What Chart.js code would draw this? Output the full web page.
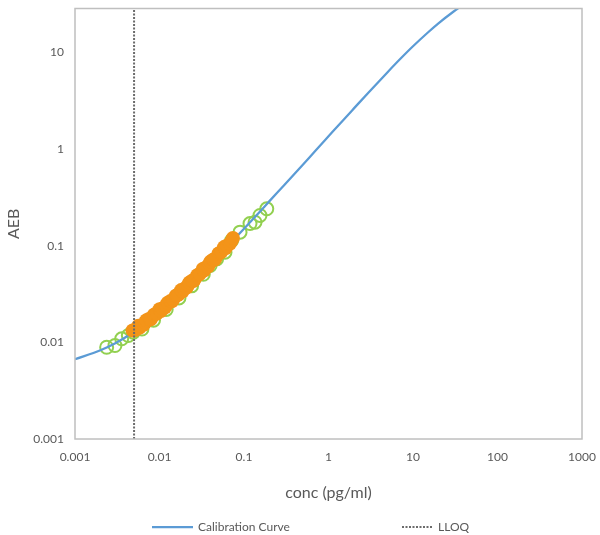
<!DOCTYPE html>
<html>
<head>
<meta charset="utf-8">
<title>Calibration Curve</title>
<script src="https://cdn.jsdelivr.net/npm/chart.js@4.4.1/dist/chart.umd.min.js"></script>
<style>
  html, body { margin: 0; padding: 0; background: #ffffff; }
  #wrap { width: 600px; height: 535px; }
</style>
</head>
<body>
<div id="wrap"><canvas id="calChart"></canvas></div>
<script>
// axis ranges / ticks
const X_TICKS = [0.001, 0.01, 0.1, 1, 10, 100, 1000];
const Y_TICKS = [0.001, 0.01, 0.1, 1, 10];
const Y_MAX = 28.6;
const LLOQ = 0.005;

// fitted calibration curve
const curveConc = [0.001, 0.002, 0.003, 0.005, 0.007, 0.01, 0.015, 0.02, 0.03, 0.05, 0.07, 0.1, 0.15, 0.2, 0.3, 0.5, 0.7, 1, 1.5, 2, 3, 5, 7, 10, 15, 20, 30, 40];
const curveAeb  = [0.0067, 0.0083, 0.0098, 0.0129, 0.0160, 0.0206, 0.0280, 0.0355, 0.0502, 0.0791, 0.1078, 0.150, 0.220, 0.290, 0.426, 0.695, 0.964, 1.36, 2.01, 2.645, 3.89, 6.27, 8.52, 11.62, 16.14, 20.08, 26.46, 31.6];

// standards (green open circles)
const stdConc = [0.00237, 0.00297, 0.00357, 0.00428, 0.0049, 0.0062, 0.0085, 0.012, 0.017, 0.024, 0.033, 0.0397, 0.0475, 0.0596, 0.0714, 0.0898, 0.1178, 0.135, 0.1545, 0.186];
const stdAeb  = [0.00891, 0.00929, 0.01089, 0.01178, 0.01277, 0.01375, 0.0170, 0.02192, 0.02887, 0.03848, 0.05073, 0.0625, 0.0733, 0.0859, 0.1135, 0.1384, 0.170, 0.1754, 0.206, 0.2415];

// samples (orange filled markers)
const sampleConc = [0.0048, 0.005, 0.0052, 0.0056, 0.0058, 0.006, 0.0065, 0.0068, 0.007, 0.0075, 0.0078, 0.008, 0.0086, 0.009, 0.0093, 0.010, 0.0104, 0.0108, 0.0116, 0.012, 0.0125, 0.0135, 0.014, 0.0145, 0.0156, 0.0162, 0.0168, 0.018, 0.0187, 0.0194, 0.021, 0.0218, 0.0226, 0.0243, 0.0252, 0.026, 0.028, 0.029, 0.030, 0.0325, 0.0337, 0.035, 0.0375, 0.039, 0.040, 0.043, 0.0445, 0.046, 0.050, 0.052, 0.054, 0.058, 0.0605, 0.063, 0.068, 0.071, 0.074];
const sampleAeb  = [0.01327, 0.01333, 0.01352, 0.01483, 0.01417, 0.0149, 0.01524, 0.01617, 0.01697, 0.01744, 0.01722, 0.0177, 0.01936, 0.01962, 0.01988, 0.022, 0.02116, 0.02242, 0.02297, 0.02428, 0.02578, 0.02685, 0.02656, 0.02758, 0.0304, 0.03074, 0.03135, 0.03479, 0.03356, 0.03564, 0.03696, 0.03928, 0.04166, 0.04348, 0.04314, 0.04474, 0.04957, 0.05019, 0.05115, 0.05757, 0.05557, 0.05916, 0.06108, 0.06515, 0.06859, 0.0718, 0.0712, 0.07409, 0.08308, 0.08444, 0.08656, 0.09692, 0.09417, 0.1006, 0.1048, 0.1124, 0.1202];

const COLORS = {
  curve: '#5B9BD5',
  lloq: '#6B6B6B',
  std: '#92D050',
  sample: '#F39419',
  text: '#595959',
  frame: '#BFBFBF'
};
const FONT = 'Lato, "Open Sans", "Liberation Sans", sans-serif';

function toPoints(xs, ys) {
  return xs.map((x, i) => ({ x: x, y: ys[i] }));
}

// tick labels may hang over the plot edges, like in the spreadsheet
function noLabelPadding(scale) {
  scale.paddingTop = 0;
  scale.paddingBottom = 0;
  scale.paddingLeft = 0;
  scale.paddingRight = 0;
}

// grey box round the plot area
const plotFrame = {
  id: 'plotFrame',
  afterDraw(chart) {
    const { ctx, chartArea: a } = chart;
    ctx.save();
    ctx.strokeStyle = COLORS.frame;
    ctx.lineWidth = 1.5;
    ctx.strokeRect(a.left, a.top, a.right - a.left, a.bottom - a.top);
    ctx.restore();
  }
};

// legend only lists the curve and the LLOQ line, spaced apart
const bottomLegend = {
  id: 'bottomLegend',
  afterDraw(chart) {
    const { ctx } = chart;
    const y = 527;
    const items = [
      { ds: chart.data.datasets[0], x: 152, len: 41 },
      { ds: chart.data.datasets[1], x: 402, len: 31 }
    ];
    ctx.save();
    ctx.font = '12px ' + FONT;
    ctx.textBaseline = 'middle';
    ctx.fillStyle = COLORS.text;
    items.forEach(item => {
      ctx.beginPath();
      ctx.strokeStyle = item.ds.borderColor;
      ctx.lineWidth = item.ds.borderWidth;
      ctx.setLineDash(item.ds.borderDash || []);
      ctx.moveTo(item.x, y);
      ctx.lineTo(item.x + item.len, y);
      ctx.stroke();
      ctx.setLineDash([]);
      ctx.fillText(item.ds.label, item.x + item.len + 5, y);
    });
    ctx.restore();
  }
};

const ctx = document.getElementById('calChart').getContext('2d');
new Chart(ctx, {
  type: 'scatter',
  data: {
    datasets: [
      {
        type: 'line',
        label: 'Calibration Curve',
        data: toPoints(curveConc, curveAeb),
        borderColor: COLORS.curve,
        borderWidth: 2.25,
        pointRadius: 0,
        cubicInterpolationMode: 'monotone',
        fill: false,
        order: 2
      },
      {
        type: 'line',
        label: 'LLOQ',
        data: [{ x: LLOQ, y: Y_TICKS[0] }, { x: LLOQ, y: Y_MAX }],
        borderColor: COLORS.lloq,
        borderWidth: 2,
        borderDash: [2, 1.5],
        pointRadius: 0,
        fill: false,
        order: 0
      },
      {
        label: 'Samples',
        data: toPoints(sampleConc, sampleAeb),
        backgroundColor: COLORS.sample,
        borderColor: COLORS.sample,
        borderWidth: 0,
        pointRadius: 7,
        order: 1
      },
      {
        label: 'Standards',
        data: toPoints(stdConc, stdAeb),
        backgroundColor: 'rgba(0,0,0,0)',
        borderColor: COLORS.std,
        borderWidth: 2,
        pointRadius: 6.5,
        order: 3
      }
    ]
  },
  options: {
    responsive: true,
    maintainAspectRatio: false,
    animation: false,
    layout: { padding: { top: 8, right: 18, bottom: 33, left: 0 } },
    plugins: {
      legend: { display: false },
      tooltip: { enabled: false }
    },
    scales: {
      x: {
        type: 'logarithmic',
        min: 0.001,
        max: 1000,
        afterBuildTicks: scale => { scale.ticks = X_TICKS.map(v => ({ value: v })); },
        afterFit: scale => { scale.height = 63; noLabelPadding(scale); },
        grid: { display: false, drawTicks: false },
        border: { display: false },
        ticks: {
          autoSkip: false,
          maxRotation: 0,
          padding: 11,
          color: COLORS.text,
          font: { family: FONT, size: 12 },
          callback: value => String(value)
        },
        title: {
          display: true,
          text: 'conc (pg/ml)',
          color: COLORS.text,
          font: { family: FONT, size: 16 },
          padding: { top: 0, bottom: 0 }
        }
      },
      y: {
        type: 'logarithmic',
        min: 0.001,
        max: Y_MAX,
        afterBuildTicks: scale => { scale.ticks = Y_TICKS.map(v => ({ value: v })); },
        afterFit: scale => { scale.width = 75; noLabelPadding(scale); },
        grid: { display: false, drawTicks: false },
        border: { display: false },
        ticks: {
          autoSkip: false,
          padding: 11,
          color: COLORS.text,
          font: { family: FONT, size: 12 },
          callback: value => String(value)
        },
        title: {
          display: true,
          text: 'AEB',
          color: COLORS.text,
          font: { family: FONT, size: 16 },
          padding: { top: 4, bottom: 0 }
        }
      }
    }
  },
  plugins: [plotFrame, bottomLegend]
});
</script>
</body>
</html>
